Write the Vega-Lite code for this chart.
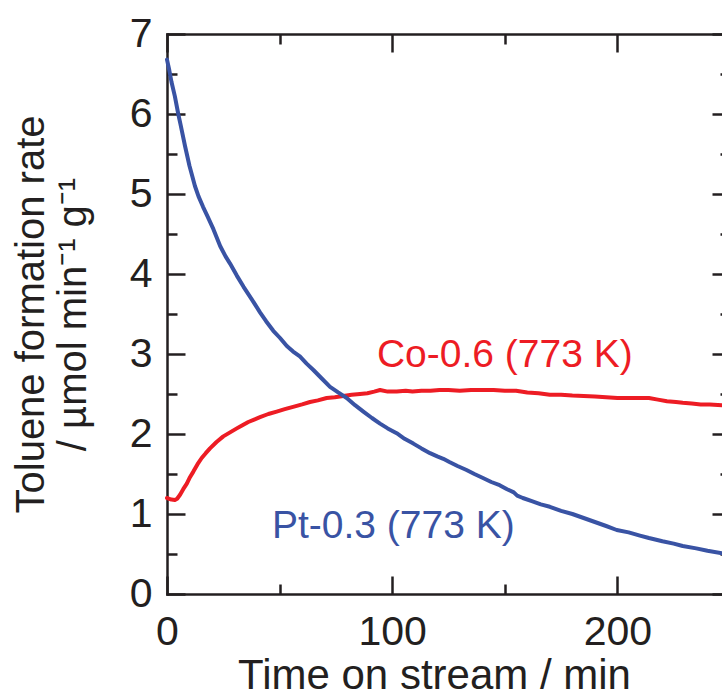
{
  "$schema": "https://vega.github.io/schema/vega-lite/v6.json",
  "width": 555,
  "height": 560,
  "autosize": {"type": "none"},
  "padding": {"left": 167, "top": 34, "right": 0, "bottom": 99},
  "background": "white",
  "config": {
    "view": {"stroke": null},
    "font": "Liberation Sans",
    "axis": {
      "labelFont": "Liberation Sans",
      "titleFont": "Liberation Sans",
      "labelColor": "#231f20",
      "titleColor": "#231f20",
      "domainColor": "#231f20",
      "tickColor": "#231f20",
      "domainWidth": 2.5,
      "tickWidth": 2.5,
      "domainCap": "square",
      "grid": false,
      "labelFontSize": 41,
      "titleFontWeight": "normal",
      "labelFlush": false,
      "labelOverlap": false
    }
  },
  "datasets": {
    "curves": [
      {"series": "Co-0.6", "t": 0, "v": 1.2},
      {"series": "Co-0.6", "t": 1, "v": 1.19},
      {"series": "Co-0.6", "t": 2, "v": 1.18},
      {"series": "Co-0.6", "t": 3.5, "v": 1.175},
      {"series": "Co-0.6", "t": 4.5, "v": 1.19},
      {"series": "Co-0.6", "t": 5.8, "v": 1.24},
      {"series": "Co-0.6", "t": 7.2, "v": 1.31},
      {"series": "Co-0.6", "t": 8.8, "v": 1.38},
      {"series": "Co-0.6", "t": 10.2, "v": 1.46},
      {"series": "Co-0.6", "t": 11.7, "v": 1.53},
      {"series": "Co-0.6", "t": 13.5, "v": 1.62},
      {"series": "Co-0.6", "t": 15.4, "v": 1.7},
      {"series": "Co-0.6", "t": 17.2, "v": 1.76},
      {"series": "Co-0.6", "t": 19.1, "v": 1.82},
      {"series": "Co-0.6", "t": 22, "v": 1.9},
      {"series": "Co-0.6", "t": 25, "v": 1.97},
      {"series": "Co-0.6", "t": 28, "v": 2.02},
      {"series": "Co-0.6", "t": 31, "v": 2.07},
      {"series": "Co-0.6", "t": 33.5, "v": 2.11},
      {"series": "Co-0.6", "t": 36.1, "v": 2.15},
      {"series": "Co-0.6", "t": 38.7, "v": 2.18},
      {"series": "Co-0.6", "t": 41.3, "v": 2.21},
      {"series": "Co-0.6", "t": 45, "v": 2.25},
      {"series": "Co-0.6", "t": 48.7, "v": 2.28},
      {"series": "Co-0.6", "t": 52.3, "v": 2.31},
      {"series": "Co-0.6", "t": 56, "v": 2.34},
      {"series": "Co-0.6", "t": 60, "v": 2.37},
      {"series": "Co-0.6", "t": 63.5, "v": 2.4},
      {"series": "Co-0.6", "t": 67, "v": 2.42},
      {"series": "Co-0.6", "t": 70.9, "v": 2.45},
      {"series": "Co-0.6", "t": 74.5, "v": 2.46},
      {"series": "Co-0.6", "t": 78.3, "v": 2.475},
      {"series": "Co-0.6", "t": 82, "v": 2.49},
      {"series": "Co-0.6", "t": 85.7, "v": 2.5},
      {"series": "Co-0.6", "t": 89, "v": 2.51},
      {"series": "Co-0.6", "t": 92, "v": 2.53},
      {"series": "Co-0.6", "t": 94.6, "v": 2.55},
      {"series": "Co-0.6", "t": 98, "v": 2.53},
      {"series": "Co-0.6", "t": 102, "v": 2.53},
      {"series": "Co-0.6", "t": 106, "v": 2.54},
      {"series": "Co-0.6", "t": 109, "v": 2.53},
      {"series": "Co-0.6", "t": 113, "v": 2.54},
      {"series": "Co-0.6", "t": 117, "v": 2.54},
      {"series": "Co-0.6", "t": 121, "v": 2.55},
      {"series": "Co-0.6", "t": 125, "v": 2.55},
      {"series": "Co-0.6", "t": 130, "v": 2.54},
      {"series": "Co-0.6", "t": 135, "v": 2.55},
      {"series": "Co-0.6", "t": 140, "v": 2.55},
      {"series": "Co-0.6", "t": 145, "v": 2.55},
      {"series": "Co-0.6", "t": 150, "v": 2.54},
      {"series": "Co-0.6", "t": 155, "v": 2.54},
      {"series": "Co-0.6", "t": 160, "v": 2.52},
      {"series": "Co-0.6", "t": 165, "v": 2.51},
      {"series": "Co-0.6", "t": 170, "v": 2.49},
      {"series": "Co-0.6", "t": 175, "v": 2.49},
      {"series": "Co-0.6", "t": 180, "v": 2.48},
      {"series": "Co-0.6", "t": 185, "v": 2.475},
      {"series": "Co-0.6", "t": 190, "v": 2.47},
      {"series": "Co-0.6", "t": 195, "v": 2.46},
      {"series": "Co-0.6", "t": 200, "v": 2.45},
      {"series": "Co-0.6", "t": 205, "v": 2.45},
      {"series": "Co-0.6", "t": 210, "v": 2.45},
      {"series": "Co-0.6", "t": 214, "v": 2.45},
      {"series": "Co-0.6", "t": 218, "v": 2.43},
      {"series": "Co-0.6", "t": 222, "v": 2.41},
      {"series": "Co-0.6", "t": 226, "v": 2.4},
      {"series": "Co-0.6", "t": 229, "v": 2.39},
      {"series": "Co-0.6", "t": 233, "v": 2.38},
      {"series": "Co-0.6", "t": 237, "v": 2.37},
      {"series": "Co-0.6", "t": 241, "v": 2.37},
      {"series": "Co-0.6", "t": 246.5, "v": 2.36},
      {"series": "Pt-0.3", "t": 0, "v": 6.68},
      {"series": "Pt-0.3", "t": 1, "v": 6.55},
      {"series": "Pt-0.3", "t": 2, "v": 6.4},
      {"series": "Pt-0.3", "t": 3.5, "v": 6.22},
      {"series": "Pt-0.3", "t": 5, "v": 6.0},
      {"series": "Pt-0.3", "t": 6, "v": 5.87},
      {"series": "Pt-0.3", "t": 8, "v": 5.6},
      {"series": "Pt-0.3", "t": 10, "v": 5.35},
      {"series": "Pt-0.3", "t": 12.4, "v": 5.1},
      {"series": "Pt-0.3", "t": 14, "v": 4.97},
      {"series": "Pt-0.3", "t": 16, "v": 4.84},
      {"series": "Pt-0.3", "t": 18, "v": 4.72},
      {"series": "Pt-0.3", "t": 20.6, "v": 4.56},
      {"series": "Pt-0.3", "t": 23.6, "v": 4.35},
      {"series": "Pt-0.3", "t": 26, "v": 4.22},
      {"series": "Pt-0.3", "t": 28, "v": 4.13},
      {"series": "Pt-0.3", "t": 31, "v": 3.98},
      {"series": "Pt-0.3", "t": 34, "v": 3.84},
      {"series": "Pt-0.3", "t": 37.5, "v": 3.69},
      {"series": "Pt-0.3", "t": 41.3, "v": 3.52},
      {"series": "Pt-0.3", "t": 44, "v": 3.41},
      {"series": "Pt-0.3", "t": 47.2, "v": 3.29},
      {"series": "Pt-0.3", "t": 50.2, "v": 3.2},
      {"series": "Pt-0.3", "t": 53.2, "v": 3.1},
      {"series": "Pt-0.3", "t": 56, "v": 3.03},
      {"series": "Pt-0.3", "t": 59, "v": 2.97},
      {"series": "Pt-0.3", "t": 62, "v": 2.88},
      {"series": "Pt-0.3", "t": 65, "v": 2.8},
      {"series": "Pt-0.3", "t": 68.5, "v": 2.7},
      {"series": "Pt-0.3", "t": 72.4, "v": 2.59},
      {"series": "Pt-0.3", "t": 76, "v": 2.52},
      {"series": "Pt-0.3", "t": 79.8, "v": 2.45},
      {"series": "Pt-0.3", "t": 83.5, "v": 2.36},
      {"series": "Pt-0.3", "t": 87.2, "v": 2.28},
      {"series": "Pt-0.3", "t": 91, "v": 2.2},
      {"series": "Pt-0.3", "t": 94.6, "v": 2.13},
      {"series": "Pt-0.3", "t": 98, "v": 2.07},
      {"series": "Pt-0.3", "t": 102, "v": 2.01},
      {"series": "Pt-0.3", "t": 105.5, "v": 1.94},
      {"series": "Pt-0.3", "t": 109.4, "v": 1.88},
      {"series": "Pt-0.3", "t": 113, "v": 1.82},
      {"series": "Pt-0.3", "t": 116.8, "v": 1.76},
      {"series": "Pt-0.3", "t": 120, "v": 1.72},
      {"series": "Pt-0.3", "t": 122.7, "v": 1.69},
      {"series": "Pt-0.3", "t": 125.4, "v": 1.65},
      {"series": "Pt-0.3", "t": 129, "v": 1.6},
      {"series": "Pt-0.3", "t": 133, "v": 1.55},
      {"series": "Pt-0.3", "t": 136.5, "v": 1.5},
      {"series": "Pt-0.3", "t": 140.3, "v": 1.45},
      {"series": "Pt-0.3", "t": 144, "v": 1.4},
      {"series": "Pt-0.3", "t": 147.7, "v": 1.36},
      {"series": "Pt-0.3", "t": 151, "v": 1.31},
      {"series": "Pt-0.3", "t": 154, "v": 1.27},
      {"series": "Pt-0.3", "t": 155.5, "v": 1.23},
      {"series": "Pt-0.3", "t": 158, "v": 1.2},
      {"series": "Pt-0.3", "t": 162, "v": 1.16},
      {"series": "Pt-0.3", "t": 166, "v": 1.12},
      {"series": "Pt-0.3", "t": 170, "v": 1.09},
      {"series": "Pt-0.3", "t": 175, "v": 1.04},
      {"series": "Pt-0.3", "t": 180, "v": 1.0},
      {"series": "Pt-0.3", "t": 185, "v": 0.95},
      {"series": "Pt-0.3", "t": 190, "v": 0.9},
      {"series": "Pt-0.3", "t": 195, "v": 0.85},
      {"series": "Pt-0.3", "t": 199.7, "v": 0.8},
      {"series": "Pt-0.3", "t": 205, "v": 0.77},
      {"series": "Pt-0.3", "t": 210, "v": 0.73},
      {"series": "Pt-0.3", "t": 214, "v": 0.7},
      {"series": "Pt-0.3", "t": 220, "v": 0.66},
      {"series": "Pt-0.3", "t": 225, "v": 0.63},
      {"series": "Pt-0.3", "t": 229, "v": 0.6},
      {"series": "Pt-0.3", "t": 235, "v": 0.57},
      {"series": "Pt-0.3", "t": 240, "v": 0.54},
      {"series": "Pt-0.3", "t": 246.5, "v": 0.51}
    ],
    "labels": [
      {"series": "Co-0.6", "label": "Co-0.6 (773 K)", "t": 93.2, "v": 2.84},
      {"series": "Pt-0.3", "label": "Pt-0.3 (773 K)", "t": 46.6, "v": 0.7}
    ]
  },
  "layer": [
    {
      "data": {"name": "curves"},
      "mark": {"type": "line", "strokeWidth": 4, "strokeCap": "round", "strokeJoin": "round"},
      "encoding": {
        "x": {
          "field": "t", "type": "quantitative",
          "scale": {"domain": [0, 250], "range": [0, 563], "nice": false, "zero": false},
          "axis": {
            "orient": "bottom", "values": [0, 100, 200], "tickSize": -18, "labelPadding": 36,
            "title": "Time on stream / min", "titleFontSize": 42, "titleX": 267, "titleY": 94,
            "titleBaseline": "alphabetic", "titleAlign": "center"
          }
        },
        "y": {
          "field": "v", "type": "quantitative",
          "scale": {"domain": [0, 7], "nice": false},
          "axis": {
            "orient": "left", "values": [0, 1, 2, 3, 4, 5, 6, 7], "tickSize": -18, "labelPadding": 33,
            "title": ["Toluene formation rate", "/ µmol min⁻¹ g⁻¹"],
            "titleFontSize": 40, "titleLineHeight": 42, "titleX": -124, "titleY": 280,
            "titleAngle": -90, "titleBaseline": "alphabetic", "titleAlign": "center"
          }
        },
        "color": {
          "field": "series", "type": "nominal",
          "scale": {"domain": ["Co-0.6", "Pt-0.3"], "range": ["#ed1c24", "#3953a4"]},
          "legend": null
        }
      }
    },
    {
      "data": {"name": "labels"},
      "mark": {"type": "text", "align": "left", "baseline": "alphabetic", "fontSize": 39, "font": "Liberation Sans"},
      "encoding": {
        "x": {
          "field": "t", "type": "quantitative",
          "axis": {"orient": "bottom", "values": [50, 150, 250], "tickSize": -10, "labels": false, "domain": false, "title": null}
        },
        "y": {
          "field": "v", "type": "quantitative",
          "axis": {"orient": "left", "values": [0.5, 1.5, 2.5, 3.5, 4.5, 5.5, 6.5], "tickSize": -10, "labels": false, "domain": false, "title": null}
        },
        "text": {"field": "label"},
        "color": {"field": "series", "type": "nominal", "legend": null}
      }
    },
    {
      "data": {"name": "curves"},
      "mark": {"type": "line", "opacity": 0},
      "encoding": {
        "x": {
          "field": "t", "type": "quantitative",
          "axis": {"orient": "top", "values": [0, 100, 200], "tickSize": -18, "labels": false, "title": null}
        },
        "y": {
          "field": "v", "type": "quantitative",
          "axis": {"orient": "right", "offset": 8, "values": [0, 1, 2, 3, 4, 5, 6, 7], "tickSize": -18, "labels": false, "title": null}
        },
        "detail": {"field": "series"}
      }
    },
    {
      "data": {"name": "curves"},
      "mark": {"type": "line", "opacity": 0},
      "encoding": {
        "x": {
          "field": "t", "type": "quantitative",
          "axis": {"orient": "top", "values": [50, 150, 250], "tickSize": -10, "labels": false, "domain": false, "title": null}
        },
        "y": {
          "field": "v", "type": "quantitative",
          "axis": {"orient": "right", "offset": 8, "values": [0.5, 1.5, 2.5, 3.5, 4.5, 5.5, 6.5], "tickSize": -10, "labels": false, "domain": false, "title": null}
        },
        "detail": {"field": "series"}
      }
    }
  ],
  "resolve": {"axis": {"x": "independent", "y": "independent"}}
}
